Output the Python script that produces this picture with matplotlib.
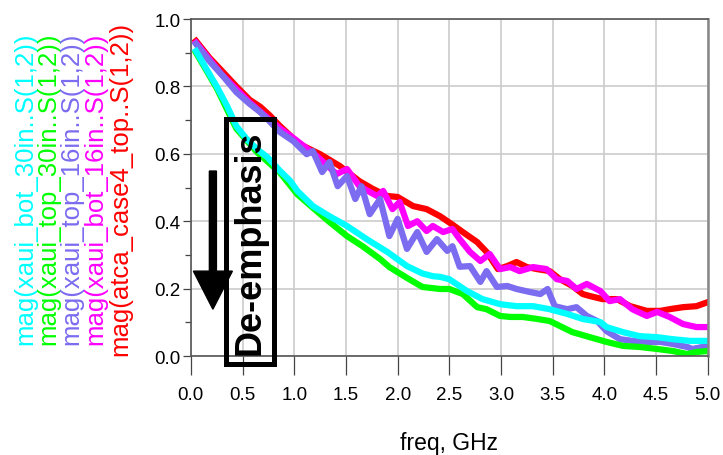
import matplotlib
matplotlib.use("Agg")
import matplotlib.pyplot as plt
from matplotlib.patches import Rectangle, FancyArrow

plt.rcParams["font.family"] = ["Liberation Sans", "DejaVu Sans"]

# traces (freq in GHz, |S12|)
bot30_f = [0.05, 0.15, 0.25, 0.35, 0.44, 0.54, 0.64, 0.74, 0.86, 0.96, 1.03, 1.18, 1.34, 1.51, 1.70, 1.90,
           2.09, 2.24, 2.34, 2.41, 2.50, 2.67, 2.82, 2.99, 3.15, 3.31, 3.47, 3.64, 3.79, 3.96, 4.02, 4.18,
           4.34, 4.51, 4.66, 4.83, 5.0]
bot30_m = [0.905, 0.852, 0.80, 0.742, 0.682, 0.644, 0.614, 0.59, 0.55, 0.52, 0.49, 0.445, 0.415, 0.386, 0.347, 0.309,
           0.267, 0.245, 0.237, 0.235, 0.228, 0.193, 0.169, 0.154, 0.148, 0.148, 0.139, 0.125, 0.11, 0.101, 0.086, 0.071,
           0.059, 0.056, 0.05, 0.045, 0.045]

top30_f = [0.05, 0.25, 0.44, 0.64, 0.86, 1.03, 1.18, 1.34, 1.51, 1.66, 1.83, 1.92, 2.1, 2.24, 2.41, 2.5,
           2.63, 2.77, 2.86, 2.99, 3.09, 3.21, 3.35, 3.47, 3.57, 3.69, 3.86, 4.02, 4.18, 4.34, 4.51, 4.66,
           4.80, 4.89, 5.0]
top30_m = [0.90, 0.795, 0.675, 0.605, 0.545, 0.48, 0.44, 0.398, 0.356, 0.326, 0.288, 0.264, 0.23, 0.205, 0.199, 0.199,
           0.184, 0.145, 0.139, 0.119, 0.116, 0.116, 0.11, 0.104, 0.089, 0.071, 0.056, 0.042, 0.03, 0.027, 0.021, 0.015,
           0.006, 0.012, 0.015]

top16_f = [0.05, 0.18, 0.31, 0.44, 0.57, 0.67, 0.76, 0.86, 0.99, 1.12, 1.18, 1.27, 1.34, 1.42, 1.51, 1.59,
           1.65, 1.73, 1.83, 1.92, 2.00, 2.09, 2.19, 2.28, 2.38, 2.48, 2.53, 2.60, 2.70, 2.80, 2.86, 2.96,
           3.06, 3.15, 3.28, 3.38, 3.45, 3.52, 3.64, 3.73, 3.83, 3.93, 4.02, 4.15, 4.27, 4.41, 4.54, 4.66,
           4.80, 4.85, 5.0]
top16_m = [0.926, 0.875, 0.831, 0.783, 0.748, 0.724, 0.697, 0.665, 0.638, 0.599, 0.608, 0.546, 0.576, 0.504, 0.534, 0.466,
           0.504, 0.421, 0.466, 0.356, 0.407, 0.318, 0.368, 0.309, 0.347, 0.312, 0.326, 0.265, 0.267, 0.22, 0.252, 0.205,
           0.208, 0.199, 0.19, 0.184, 0.199, 0.148, 0.139, 0.145, 0.119, 0.104, 0.074, 0.05, 0.045, 0.042, 0.042, 0.036,
           0.027, 0.021, 0.03]

bot16_f = [0.05, 0.3, 0.57, 0.86, 1.0, 1.22, 1.41, 1.51, 1.63, 1.80, 1.86, 1.95, 2.02, 2.10, 2.19, 2.28,
           2.34, 2.44, 2.53, 2.60, 2.70, 2.80, 2.89, 2.99, 3.09, 3.18, 3.31, 3.44, 3.54, 3.64, 3.73, 3.83,
           3.96, 4.05, 4.15, 4.27, 4.41, 4.51, 4.63, 4.76, 4.89, 5.0]
bot16_m = [0.93, 0.835, 0.752, 0.676, 0.645, 0.593, 0.54, 0.555, 0.504, 0.475, 0.49, 0.436, 0.457, 0.386, 0.40, 0.371,
           0.386, 0.368, 0.377, 0.347, 0.309, 0.282, 0.303, 0.258, 0.264, 0.252, 0.264, 0.258, 0.228, 0.223, 0.199, 0.214,
           0.193, 0.163, 0.169, 0.139, 0.119, 0.131, 0.116, 0.095, 0.086, 0.086]

atca_f = [0.05, 0.18, 0.31, 0.44, 0.57, 0.67, 0.76, 0.86, 1.05, 1.25, 1.44, 1.63, 1.76, 1.90, 2.00, 2.15,
          2.28, 2.41, 2.53, 2.63, 2.77, 2.86, 2.97, 3.06, 3.15, 3.25, 3.35, 3.47, 3.57, 3.69, 3.79, 3.86,
          3.98, 4.12, 4.25, 4.41, 4.54, 4.63, 4.76, 4.89, 5.0]
atca_m = [0.935, 0.885, 0.843, 0.80, 0.76, 0.74, 0.715, 0.683, 0.629, 0.599, 0.564, 0.519, 0.496, 0.475, 0.472, 0.445,
          0.436, 0.415, 0.39, 0.368, 0.338, 0.309, 0.258, 0.267, 0.279, 0.264, 0.258, 0.252, 0.228, 0.208, 0.184, 0.178,
          0.169, 0.169, 0.148, 0.134, 0.134, 0.139, 0.145, 0.148, 0.16]

labels = ["mag(xaui_bot_30in..S(1,2))", "mag(xaui_top_30in..S(1,2))", "mag(xaui_top_16in..S(1,2))",
          "mag(xaui_bot_16in..S(1,2))", "mag(atca_case4_top..S(1,2))"]
colors = ["#00FFFF", "#00FF00", "#7B6CF0", "#FF00FF", "#FF0000"]
traces = [(bot30_f, bot30_m), (top30_f, top30_m), (top16_f, top16_m), (bot16_f, bot16_m), (atca_f, atca_m)]

fig = plt.figure(figsize=(7.23, 4.56), dpi=100)
ax = fig.add_axes([0.264, 0.217, 0.715, 0.739])

# later traces underneath
for (f, m), c in reversed(list(zip(traces, colors))):
    ax.plot(f, m, color=c, linewidth=4.5)

ax.set_xlim(0, 5.0)
ax.set_ylim(0, 1.0)
ax.set_xticks([i * 0.5 for i in range(11)])
ax.set_yticks([0.0, 0.2, 0.4, 0.6, 0.8, 1.0])
ax.set_yticks([0.1, 0.3, 0.5, 0.7, 0.9], minor=True)
ax.xaxis.set_major_formatter(matplotlib.ticker.FormatStrFormatter("%.1f"))
ax.yaxis.set_major_formatter(matplotlib.ticker.FormatStrFormatter("%.1f"))
ax.tick_params(axis="x", length=13.5, width=0.9, color="#444444", labelsize=13.5, pad=8)
ax.tick_params(axis="y", which="major", length=5.5, width=0.9, color="#444444", labelsize=13.5, pad=2)
ax.tick_params(axis="y", which="minor", length=4.5, width=0.9, color="#444444")
ax.grid(True, color="#cccccc", linewidth=1.2)
ax.set_axisbelow(True)
for side in ["left", "top", "bottom"]:
    ax.spines[side].set_color("#555555")
    ax.spines[side].set_linewidth(1.2)
ax.spines["right"].set_color("#888888")
ax.spines["right"].set_linewidth(1.8)

fig.text(0.621, 0.027, "freq, GHz", fontsize=16.5, ha="center", va="center")

# stacked vertical trace names on the left
legend_x = [25, 48, 71, 95, 120]
for lx, lab, c in zip(legend_x, labels, colors):
    fig.text(lx / 723, 0.585, lab, color=c, fontsize=18.5, rotation=90, ha="center", va="center")

# de-emphasis annotation
ax.add_patch(Rectangle((0.339, -0.024), 0.464, 0.727, fill=False, edgecolor="black",
                       linewidth=3.6, clip_on=False, zorder=5))
ax.text(0.571, 0.34, "De-emphasis", fontsize=26, fontweight="bold", rotation=90,
        ha="center", va="center", zorder=6)
ax.add_patch(FancyArrow(0.213, 0.549, 0, -0.41, width=0.068, head_width=0.377, head_length=0.113,
                        length_includes_head=True, color="black", zorder=6))

fig.savefig("out.png", dpi=100, facecolor="white")
